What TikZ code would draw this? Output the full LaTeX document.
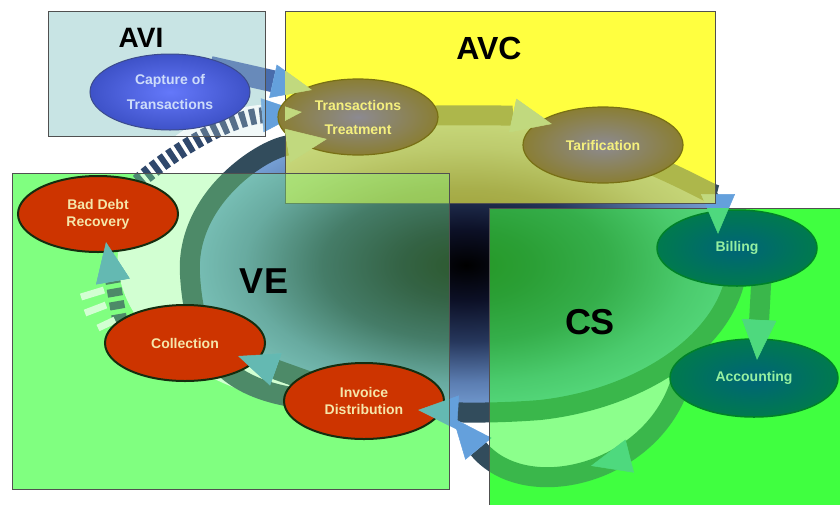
\documentclass[tikz,border=0pt]{standalone}
\usepackage{fontspec}
\setmainfont{Liberation Sans}
\usetikzlibrary{arrows.meta,shapes.geometric,decorations.markings}

\pgfdeclarelayer{boxes}
\pgfdeclarelayer{bands}
\pgfdeclarelayer{tint}
\pgfsetlayers{boxes,bands,tint,main}

\definecolor{aviback}{RGB}{200,228,228}
\definecolor{avcback}{RGB}{255,255,64}
\definecolor{veback}{RGB}{128,255,128}
\definecolor{csback}{RGB}{64,255,64}
\definecolor{boxline}{RGB}{80,80,80}
\definecolor{coreA}{RGB}{12,16,38}
\definecolor{coreB}{RGB}{38,55,92}
\definecolor{coreC}{RGB}{92,126,178}
\definecolor{coreD}{RGB}{138,186,240}
\definecolor{bandslate}{RGB}{50,76,92}
\definecolor{stripeblue}{RGB}{48,72,108}
\definecolor{capblue}{RGB}{72,108,172}
\definecolor{tipblue}{RGB}{100,160,220}
\definecolor{tipavc}{RGB}{193,217,126}
\definecolor{tipcs}{RGB}{78,217,126}
\definecolor{tipve}{RGB}{100,185,178}
\definecolor{capin}{RGB}{100,120,250}
\definecolor{capout}{RGB}{62,82,200}
\definecolor{capline}{RGB}{60,75,140}
\definecolor{captext}{RGB}{205,220,250}
\definecolor{olivein}{RGB}{140,138,145}
\definecolor{oliveout}{RGB}{138,126,52}
\definecolor{oliveline}{RGB}{120,112,20}
\definecolor{olivetext}{RGB}{245,240,125}
\definecolor{tealin}{RGB}{0,100,120}
\definecolor{tealout}{RGB}{0,122,78}
\definecolor{tealline}{RGB}{0,130,40}
\definecolor{tealtext}{RGB}{150,240,160}
\definecolor{rust}{RGB}{205,52,0}
\definecolor{rustline}{RGB}{20,45,15}
\definecolor{rusttext}{RGB}{245,230,170}

\pgfdeclareradialshading{coreglow}{\pgfpoint{0bp}{0bp}}{%
  color(0bp)=(black); color(6bp)=(coreA); color(13bp)=(coreB);
  color(20bp)=(coreC); color(29bp)=(coreD); color(50bp)=(coreD)}

\tikzset{
  basetip/.tip={Triangle[length=40pt,width=34pt,line width=.5pt,color=tipblue]},
  avctip/.tip={Triangle[length=40pt,width=34pt,line width=.5pt,color=tipavc]},
  cstip/.tip={Triangle[length=40pt,width=34pt,line width=.5pt,color=tipcs]},
  vetip/.tip={Triangle[length=40pt,width=34pt,line width=.5pt,color=tipve]},
  band/.style={draw=bandslate, line width=20pt, -{basetip}},
  tipon/.style={postaction={decorate,decoration={markings,mark=at position 0.999 with {\arrow{#1}}}}},
  midtip/.style={postaction={decorate,decoration={markings,mark=at position #1 with {\arrow{basetip}}}}},
  stage/.style={ellipse, minimum width=160pt, minimum height=76pt, inner sep=0pt, align=center,
    font=\bfseries\fontsize{14}{17}\selectfont},
  capstage/.style={stage, inner color=capin, outer color=capout, draw=capline, line width=1pt,
    text=captext, font=\bfseries\fontsize{14}{25}\selectfont},
  olivestage/.style={stage, inner color=olivein, outer color=oliveout, draw=oliveline, line width=1.2pt,
    text=olivetext},
  tealstage/.style={stage, inner color=tealin, outer color=tealout, draw=tealline, line width=1.5pt,
    text=tealtext},
  ruststage/.style={stage, fill=rust, draw=rustline, line width=2pt, text=rusttext},
  zonelabel/.style={font=\bfseries\fontsize{#1}{#1}\selectfont, inner sep=0pt}
}

\begin{document}
\begin{tikzpicture}[x=1pt,y=-1pt]
  \useasboundingbox (0,0) rectangle (840,504);

  % stages of the cycle
  \node[capstage] (capture) at (170,92) {Capture of\\Transactions};
  \node[olivestage, font=\bfseries\fontsize{14}{24}\selectfont] (treatment) at (358,117) {Transactions\\Treatment};
  \node[olivestage] (tarif) at (603,145) {Tarification};
  \node[tealstage] (billing) at (737,248) {Billing};
  \node[tealstage, minimum width=168pt, minimum height=78pt] (accounting) at (754,378) {Accounting};
  \node[ruststage] (invoice) at (364,401) {Invoice\\Distribution};
  \node[ruststage] (collection) at (185,343) {Collection};
  \node[ruststage] (baddebt) at (98,214) {Bad Debt\\Recovery};

  \begin{pgfonlayer}{boxes}
    \fill[white] (0,0) rectangle (840,504);
    \foreach \ax/\ay/\bx/\by/\zone in {48/11/265/136/aviback, 285/11/715/203/avcback,
        12/173/449/489/veback, 489/208/841/505/csback}
      \fill[\zone] (\ax,\ay) rectangle (\bx,\by);
    % light halo round the cycle
    \fill[white] (272,104) .. controls (185,108) and (125,160) .. (118,250)
      .. controls (112,330) and (200,388) .. (300,406)
      .. controls (360,418) and (420,420) .. (453,418)
      .. controls (525,505) and (650,475) .. (680,384) -- (466,265) -- cycle;
    \shade[shading=coreglow] (466,265) ellipse [x radius=277pt, y radius=147pt];
  \end{pgfonlayer}

  \begin{pgfonlayer}{bands}
    % the cycle:
    \draw[band] (treatment.center) .. controls (470,114) and (515,116) .. ([shift={(-51,-21)}]tarif.center);
    \draw[band] (tarif.center) .. controls (690,178) and (718,200) .. ([shift={(-19,-14)}]billing.center);
    \draw[band] (billing.center) .. controls (745,330) and (650,398) .. (540,410)
      .. controls (490,414) and (450,412) .. ([shift={(54,9)}]invoice.center);
    \draw[band] ([shift={(26,0)}]billing.center) -- ([shift={(3,-18)}]accounting.center);
    \draw[band, midtip=0.45] ([shift={(-74,6)}]accounting.center) .. controls (650,475) and (525,505)
      .. ([shift={(89,17)}]invoice.center);
    \draw[band] (invoice.center) -- ([shift={(53,13)}]collection.center);
    \draw[band] (invoice.center) .. controls (230,405) and (195,360) .. (190,275)
      .. controls (185,200) and (260,150) .. ([shift={(-31,22)}]treatment.center);
    % inputs:
    \draw[band, draw=capblue, line width=22pt] ([shift={(40,-25)}]capture.center) -- ([shift={(-46,-27)}]treatment.center);
    \draw[band, draw=stripeblue, line width=16pt, dash pattern=on 6pt off 4pt]
      ([shift={(40,-32)}]baddebt.center) .. controls (175,150) and (230,118) .. ([shift={(-56,-5)}]treatment.center);
    \draw[band, line width=15pt, dash pattern=on 8pt off 5pt]
      ([shift={(-65,-21)}]collection.center) -- ([shift={(8,28)}]baddebt.center);
    \draw[white, line width=7pt] (81,297) -- (104,290);
    \draw[white, line width=7pt] (85,313) -- (106,305);
    \draw[white, line width=7pt] (98,328) -- (115,320);
  \end{pgfonlayer}

  \begin{pgfonlayer}{tint}
    \foreach \ax/\ay/\bx/\by/\zone/\op in {48/11/265/136/aviback/.25, 285/11/715/203/avcback/.6,
        12/173/449/489/veback/.35, 489/208/841/505/csback/.6}
      \filldraw[fill=\zone, fill opacity=\op, draw=boxline, line width=.8pt] (\ax,\ay) rectangle (\bx,\by);
  \end{pgfonlayer}

  % arrow heads over the stages
  \begin{scope}
    \clip (285,11) rectangle (715,203);
    \path[tipon=avctip] (treatment.center) .. controls (470,114) and (515,116) .. ([shift={(-51,-21)}]tarif.center);
    \path[tipon=avctip] (190,275) .. controls (185,200) and (260,150) .. ([shift={(-31,22)}]treatment.center);
    \path[tipon=avctip] ([shift={(40,-25)}]capture.center) -- ([shift={(-46,-27)}]treatment.center);
    \path[tipon=avctip] ([shift={(40,-32)}]baddebt.center) .. controls (175,150) and (230,118) .. ([shift={(-56,-5)}]treatment.center);
  \end{scope}
  \begin{scope}
    \clip (489,208) rectangle (840,504);
    \path[tipon=cstip] (tarif.center) .. controls (690,178) and (718,200) .. ([shift={(-19,-14)}]billing.center);
    \path[tipon=cstip] ([shift={(26,0)}]billing.center) -- ([shift={(3,-18)}]accounting.center);
  \end{scope}
  \begin{scope}
    \clip (12,173) rectangle (449,489);
    \path[tipon=vetip] (540,410) .. controls (490,414) and (450,412) .. ([shift={(54,9)}]invoice.center);
    \path[tipon=vetip] (invoice.center) -- ([shift={(53,13)}]collection.center);
    \path[tipon=vetip] ([shift={(-65,-21)}]collection.center) -- ([shift={(8,28)}]baddebt.center);
  \end{scope}

  % zones
  \node[zonelabel=28] (zAVI) at (141,38) {AVI};
  \node[zonelabel=32] (zAVC) at (489,48) {AVC};
  \node[zonelabel=36] (zVE) at (264,281) {VE};
  \node[zonelabel=36] (zCS) at (590,322) {CS};
\end{tikzpicture}
\end{document}
